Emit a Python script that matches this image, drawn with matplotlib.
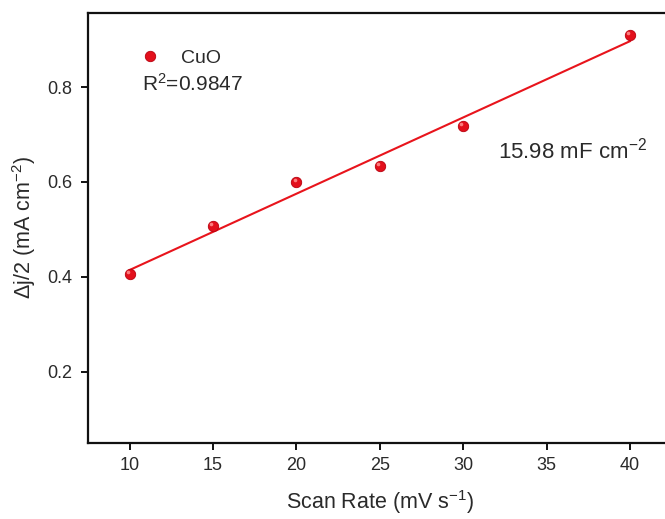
import matplotlib
matplotlib.use("Agg")
import matplotlib.pyplot as plt
import matplotlib.transforms as mtransforms
import numpy as np

scan_rate = [10, 15, 20, 25, 30, 40]
half_dj = [0.406, 0.507, 0.599, 0.633, 0.718, 0.910]
series_name = "CuO"
r2_text = "R$^2$=0.9847"
cap_text = "15.98 mF cm$^{-2}$"
xticks = [10, 15, 20, 25, 30, 35, 40]
yticks = [0.2, 0.4, 0.6, 0.8]

plt.rcParams['font.family'] = ['Liberation Sans', 'DejaVu Sans']
plt.rcParams['mathtext.fontset'] = 'custom'
plt.rcParams['mathtext.rm'] = 'Liberation Sans'
plt.rcParams['mathtext.it'] = 'Liberation Sans:italic'

W, H = 665, 519
fig = plt.figure(figsize=(W/100, H/100), dpi=100)
ax = fig.add_axes([88/W, 76/H, (671.7-88)/W, 430/H])

x = np.array(scan_rate, float)
y = np.array(half_dj, float)
k, b = np.polyfit(x, y, 1)
xf = np.array([10, 40])
ax.plot(xf, k*xf + b, color='#e8141c', lw=1.5, zorder=2)
ax.plot(x, y, 'o', color='#e3101c', ms=7.5, markeredgecolor='#b8000e', mew=0.6, zorder=3, label=series_name)
# specular highlight on the ball markers
hl = mtransforms.offset_copy(ax.transData, fig=fig, x=-1.4, y=1.4, units='points')
ax.plot(x, y, 'o', color='#ff8a8a', ms=2.6, mew=0, alpha=0.9, zorder=4, transform=hl)

ax.set_xlim(7.5, 42.5)
ax.set_ylim(0.05, 0.956)
ax.set_xticks(xticks)
ax.set_yticks(yticks)
ax.set_xticklabels([str(t) for t in xticks])
ax.set_yticklabels([f"{t:.1f}" for t in yticks])
for s in ax.spines.values():
    s.set_linewidth(1.6)
    s.set_color('#111111')
ax.tick_params(direction='out', length=5, width=1.4, labelsize=13, colors='#111111',
               labelcolor='#2a2a2a')
ax.tick_params(axis='y', pad=6)
ax.tick_params(axis='x', pad=5)

ax.legend(loc='upper left', bbox_to_anchor=(138/W, 1 - 49/H), bbox_transform=fig.transFigure,
          frameon=False, fontsize=14, handletextpad=1.0, handlelength=1.2, borderpad=0,
          borderaxespad=0, labelcolor='#2a2a2a')
fig.text(142/W, 1 - 91/H, r2_text, fontsize=15, va='baseline', ha='left', color='#2a2a2a')
fig.text(498/W, 1 - 158/H, cap_text, fontsize=16, va='baseline', ha='left', color='#2a2a2a')

ax.set_xlabel("Scan Rate (mV s$^{-1}$)", fontsize=15.5, color='#2a2a2a', labelpad=10)
ax.set_ylabel("Δj/2 (mA cm$^{-2}$)", fontsize=15.5, color='#2a2a2a', labelpad=7)

fig.savefig("out.png", dpi=100)
